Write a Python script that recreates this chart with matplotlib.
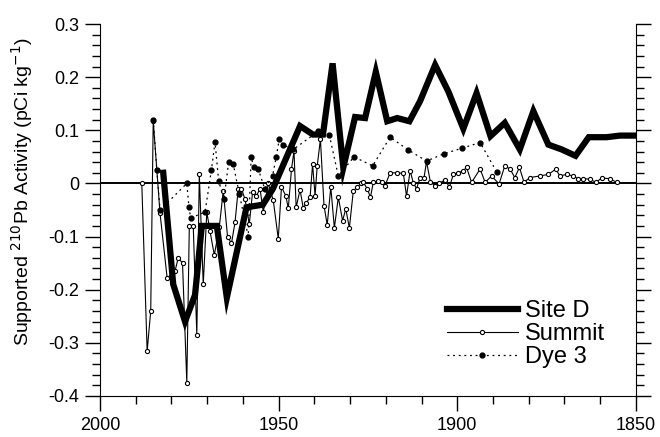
import matplotlib
matplotlib.use("Agg")
import matplotlib.pyplot as plt
from matplotlib.ticker import MultipleLocator

plt.rcParams['font.family'] = ['Liberation Sans', 'DejaVu Sans']

# Site D (thick line)
site_d_year = [1982.3, 1979.5, 1976.2, 1973.4, 1971.5, 1967.3, 1964.5, 1959.0, 1954.4,
               1951.6, 1944.0, 1940.4, 1937.6, 1934.9, 1931.9, 1928.6, 1925.8, 1922.8,
               1919.6, 1916.8, 1913.4, 1910.4, 1906.2, 1902.5, 1898.3, 1894.6, 1890.7,
               1886.7, 1882.5, 1878.7, 1874.5, 1870.8, 1866.9, 1863.2, 1858.2, 1854.5, 1850.7]
site_d = [0.02, -0.19, -0.26, -0.21, -0.08, -0.08, -0.215, -0.045, -0.04,
          -0.01, 0.108, 0.092, 0.092, 0.226, 0.03, 0.125, 0.123, 0.21,
          0.117, 0.123, 0.117, 0.155, 0.223, 0.173, 0.103, 0.17, 0.089,
          0.114, 0.064, 0.136, 0.073, 0.064, 0.052, 0.087, 0.087, 0.09, 0.09]

# Summit (thin line, open circles)
summit_year = [1988.3, 1986.8, 1985.8, 1985.1, 1984.1, 1983.2, 1981.2, 1979.0, 1978.1,
               1976.9, 1975.7, 1975.0, 1973.9, 1972.9, 1972.2, 1971.1, 1970.1, 1969.2,
               1968.0, 1966.6, 1965.5, 1964.3, 1963.2, 1962.2, 1961.3, 1960.4, 1959.4,
               1958.2, 1957.3, 1956.2, 1955.2, 1954.3, 1952.9, 1951.5, 1950.1, 1949.2,
               1948.0, 1947.3, 1946.4, 1945.7, 1945.1, 1944.0, 1943.1, 1942.2, 1941.2,
               1940.5, 1939.8, 1939.2, 1938.3, 1937.3, 1936.4, 1935.4, 1934.4, 1933.3,
               1932.1, 1931.2, 1930.2, 1929.1, 1928.0, 1927.0, 1926.3, 1925.2, 1924.3,
               1923.5, 1922.3, 1921.2, 1920.2, 1918.8, 1917.0, 1915.1, 1914.2, 1913.2,
               1912.3, 1911.4, 1910.4, 1909.3, 1908.6, 1907.5, 1906.2, 1905.0, 1903.4,
               1902.2, 1901.1, 1899.7, 1898.3, 1897.4, 1896.0, 1893.6, 1892.2, 1890.4,
               1888.3, 1886.7, 1885.2, 1883.9, 1882.6, 1881.3, 1879.7, 1876.9, 1874.5,
               1872.4, 1871.3, 1869.4, 1867.5, 1866.1, 1864.8, 1862.9, 1861.2, 1859.6,
               1857.3, 1855.4]
summit = [0.0, -0.316, -0.24, 0.118, 0.026, -0.056, -0.178, -0.165, -0.14,
          -0.15, -0.375, -0.08, -0.08, -0.285, 0.017, -0.19, -0.054, -0.09,
          -0.135, -0.082, -0.014, -0.1, -0.113, -0.073, -0.01, -0.01, -0.03,
          -0.076, -0.017, -0.023, -0.01, -0.054, 0.0, -0.032, -0.104, -0.007,
          -0.023, -0.047, 0.027, 0.061, -0.045, -0.012, -0.047, -0.036, -0.026,
          0.036, -0.023, 0.033, 0.083, -0.042, -0.078, -0.007, -0.084, -0.026,
          -0.07, -0.048, -0.084, -0.014, -0.007, 0.0, 0.002, -0.01, -0.026,
          0.002, 0.004, 0.003, -0.004, 0.02, 0.02, 0.019, -0.024, 0.024,
          0.001, -0.01, 0.011, 0.011, 0.041, 0.002, -0.004, 0.0, 0.007,
          -0.007, 0.017, 0.02, 0.024, 0.03, 0.002, 0.027, 0.002, 0.014,
          -0.001, 0.033, 0.027, 0.011, 0.03, 0.002, 0.011, 0.014, 0.017,
          0.027, 0.014, 0.017, 0.014, 0.008, 0.009, 0.008, 0.002, 0.010,
          0.009, 0.002]

# Dye 3 (dotted line, filled dots)
dye3_year = [1985.1, 1984.1, 1983.2, 1975.7, 1975.1, 1974.6, 1970.6, 1968.8, 1967.8,
             1966.8, 1965.3, 1964.0, 1962.7, 1961.0, 1958.5, 1957.7, 1956.9, 1955.7,
             1953.9, 1951.7, 1950.7, 1949.8, 1948.9, 1945.9, 1938.9, 1935.8, 1933.3,
             1928.9, 1923.7, 1918.8, 1913.7, 1908.6, 1903.7, 1898.8, 1893.6, 1889.0]
dye3 = [0.12, 0.026, -0.05, 0.0, -0.045, -0.065, -0.054, 0.026, 0.078,
        0.005, -0.03, 0.04, 0.036, -0.02, -0.1, 0.049, 0.03, 0.027,
        -0.01, 0.014, 0.049, 0.084, 0.073, 0.064, 0.098, 0.091, 0.014,
        0.05, 0.033, 0.087, 0.063, 0.042, 0.056, 0.066, 0.077, 0.022]

fig = plt.figure(figsize=(6.6, 4.37), dpi=100)
ax = fig.add_axes([0.1515, 0.094, 0.812, 0.851])

ax.axhline(0, color='black', lw=1.4, zorder=1)
ax.plot(summit_year, summit, color='black', lw=0.8, marker='o', ms=3,
        mfc='white', mec='black', mew=0.8, label='Summit', zorder=3)
ax.plot(dye3_year, dye3, color='black', lw=0.9, ls=(0, (1.5, 3)), marker='o', ms=3.5,
        mfc='black', mec='black', label='Dye 3', zorder=3)
ax.plot(site_d_year, site_d, color='black', lw=4.5, solid_joinstyle='miter',
        label='Site D', zorder=4)

ax.set_xlim(2000, 1850)
ax.set_ylim(-0.4, 0.3)
ax.xaxis.set_major_locator(MultipleLocator(50))
ax.xaxis.set_minor_locator(MultipleLocator(10))
ax.yaxis.set_major_locator(MultipleLocator(0.1))
ax.yaxis.set_minor_locator(MultipleLocator(0.02))
ax.set_yticks([0.3, 0.2, 0.1, 0, -0.1, -0.2, -0.3, -0.4])
ax.set_yticklabels(['0.3', '0.2', '0.1', '0', '-0.1', '-0.2', '-0.3', '-0.4'])

ax.spines['top'].set_visible(False)
ax.tick_params(which='both', direction='out', right=True, top=False, labelsize=13, width=1)
ax.tick_params(which='major', length=11, pad=4)
ax.tick_params(which='minor', length=6)

ax.set_ylabel('Supported $^{210}$Pb Activity (pCi kg$^{-1}$)', fontsize=14)
ax.yaxis.set_label_coords(-0.122, 0.548)

handles, labels = ax.get_legend_handles_labels()
order = [2, 0, 1]
ax.legend([handles[i] for i in order], [labels[i] for i in order],
          loc='upper left', bbox_to_anchor=(0.625, 0.29), frameon=False,
          fontsize=17, handlelength=3.0, handletextpad=0.3, labelspacing=0.05,
          borderpad=0, numpoints=1)

fig.savefig('out.png', dpi=100)
